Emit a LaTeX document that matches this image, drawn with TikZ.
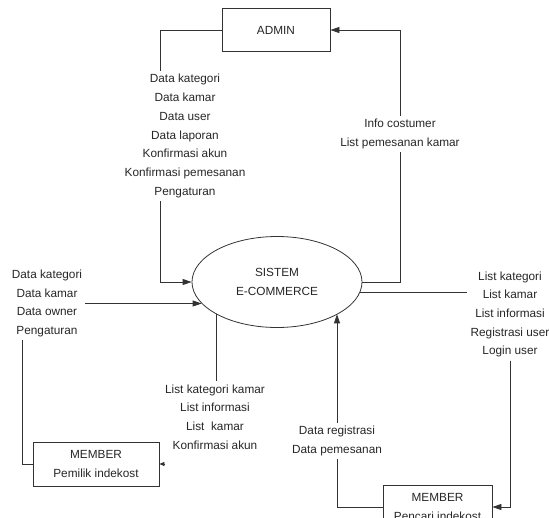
\documentclass[tikz,border=0pt]{standalone}
\usepackage{fontspec}
\setmainfont{Liberation Sans}
\usetikzlibrary{arrows.meta, shapes.geometric, positioning}

\newcommand{\dfdfont}{\fontsize{11.8}{18.7}\selectfont}

\tikzset{
    entitas/.style={draw, rectangle, line width=0.8pt, minimum width=108pt, minimum height=43pt, align=center, font=\dfdfont},
    proses/.style={draw, ellipse, line width=0.8pt, minimum width=170pt, minimum height=91pt, align=center, font=\dfdfont, inner sep=0pt},
    aliran/.style={align=center, font=\dfdfont, inner sep=3pt},
    garis/.style={line width=0.8pt},
    panah/.style={line width=0.8pt, -{Triangle[length=9pt,width=6pt]}}
}

\begin{document}
\begin{tikzpicture}[x=1pt, y=-1pt, every node/.style={text=black!85}, draw=black!80]
    \clip (0,0) rectangle (549,517);
    % Entitas dan proses
    \node[entitas] (admin) at (276,30) {ADMIN};
    \node[proses] (sistem) at (277,282) {SISTEM\\E-COMMERCE};
    \node[entitas, minimum width=126pt, minimum height=44pt] (pemilik) at (96,464) {MEMBER\\Pemilik indekost};
    \node[entitas, minimum width=109pt, minimum height=44pt] (pencari) at (437.5,507) {MEMBER\\Pencari indekost};

    % Label aliran data
    \node[aliran] (lbladmin) at (185,136) {Data kategori\\Data kamar\\Data user\\Data laporan\\Konfirmasi akun\\Konfirmasi pemesanan\\Pengaturan};
    \node[aliran] (lblinfo) at (400,134) {Info costumer\\List pemesanan kamar};
    \node[aliran] (lblowner) at (47,303.5) {Data kategori\\Data kamar\\Data owner\\Pengaturan};
    \node[aliran] (lbllist) at (510,314.5) {List kategori\\List kamar\\List informasi\\Registrasi user\\Login user};
    \node[aliran] (lblpemilik) at (215,417) {List kategori kamar\\List informasi\\List\ \ kamar\\Konfirmasi akun};
    \node[aliran] (lblregis) at (337,441) {Data registrasi\\Data pemesanan};

    % Admin <-> sistem
    \draw[garis] (admin.west) -| ([xshift=-25pt]lbladmin.north);
    \draw[panah] ([xshift=-25pt]lbladmin.south) |- (sistem.west);
    \draw[garis] (sistem.east) -| (lblinfo.south);
    \draw[panah] (lblinfo.north) |- (admin.east);

    % Pemilik indekost <-> sistem
    \draw[panah] (lblowner.east) -- (lblowner.east -| sistem.196);
    \draw[garis] ([xshift=-25pt]lblowner.south) |- (pemilik.west);
    \draw[garis] (sistem.208) -- (sistem.208 |- lblpemilik.north);
    \draw[line width=0.8pt, -{Triangle[length=5pt,width=4pt]}] ([xshift=6pt]pemilik.east) -- (pemilik.east);

    % Pencari indekost <-> sistem
    \draw[garis] (sistem.-7) -- (sistem.-7 -| lbllist.west);
    \draw[panah] (lbllist.south) |- (pencari.east);
    \draw[garis] (pencari.west) -| (lblregis.south);
    \draw[panah] (lblregis.north) -- (lblregis.north |- sistem.-28);
\end{tikzpicture}
\end{document}
